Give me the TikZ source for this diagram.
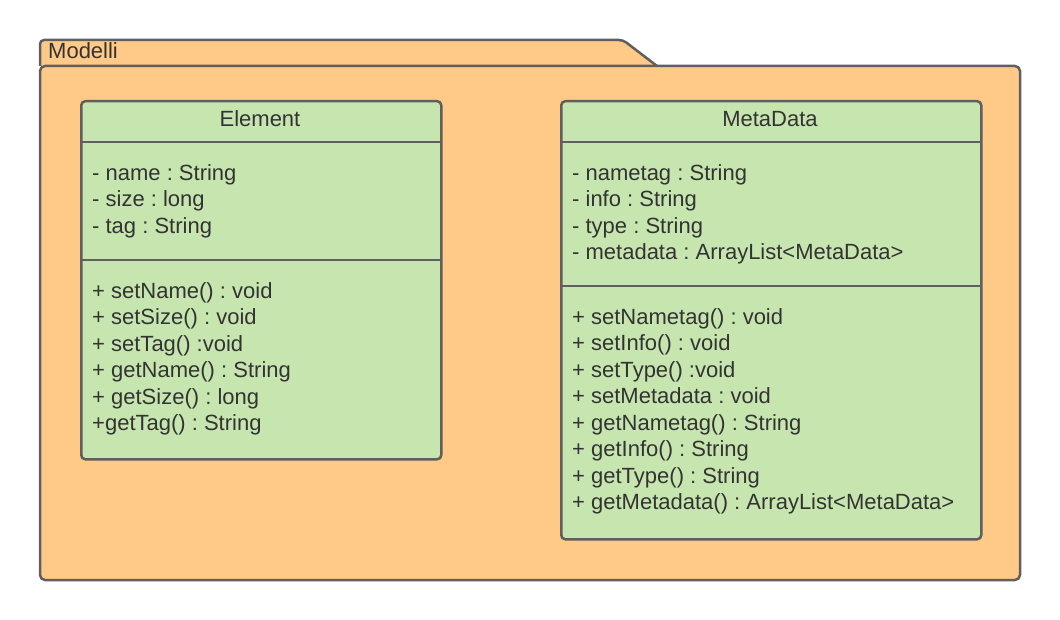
\documentclass[tikz,border=0pt]{standalone}
\usepackage{fontspec}
\setmainfont{Liberation Sans}
\usepackage{xcolor}
\usetikzlibrary{positioning}
\definecolor{pkgfill}{RGB}{255,201,135}
\definecolor{clsfill}{RGB}{199,230,175}
\definecolor{edge}{RGB}{95,95,95}
\definecolor{ink}{RGB}{51,51,51}
\frenchspacing
\begin{document}
\begin{tikzpicture}[x=1pt,y=-1pt,line join=round]
    \tikzstyle{classbox}=[draw=edge,fill=clsfill,line width=2.5pt,rounded corners=4pt,inner sep=0pt,anchor=north west]
    \tikzstyle{title}=[text=ink,font=\fontsize{22}{26.5}\selectfont,inner sep=0pt]
    \tikzstyle{members}=[text=ink,font=\fontsize{22}{26.5}\selectfont,align=left,inner sep=0pt,anchor=north west]
    \tikzstyle{divider}=[draw=edge,line width=2.5pt]

    \useasboundingbox (0,0) rectangle (1060,620);

    % package
    \draw[draw=edge,fill=pkgfill,line width=2.5pt,rounded corners=4pt] (40,66) -- (40,40) -- (623,40) -- (657,66);
    \draw[draw=edge,fill=pkgfill,line width=2.5pt,rounded corners=5pt] (40,66) rectangle (1020,580);
    \node[title,anchor=west] (pkg) at (48,51) {Modelli};

    % Element
    \node[classbox,minimum width=360,minimum height=358] (element) at (80,100) {};
    \node[title] (elementname) at (260,119) {Element};
    \draw[divider] (80,142) -- (440,142);
    \draw[divider] (80,260) -- (440,260);
    \node[members] (elementattr) at (92,164) {- name : String\\- size : long\\- tag : String};
    \node[members] (elementops) at (92,282) {+ setName() : void\\+ setSize() : void\\+ setTag() :void\\+ getName() : String\\+ getSize() : long\\+getTag() : String};

    % MetaData
    \node[classbox,minimum width=420,minimum height=438] (metadata) at (560,100) {};
    \node[title] (metadataname) at (770,119) {MetaData};
    \draw[divider] (560,142) -- (980,142);
    \draw[divider] (560,286) -- (980,286);
    \node[members] (metadataattr) at (572,164) {- nametag : String\\- info : String\\- type : String\\- metadata : ArrayList<MetaData>};
    \node[members] (metadataops) at (572,308) {+ setNametag() : void\\+ setInfo() : void\\+ setType() :void\\+ setMetadata : void\\+ getNametag() : String\\+ getInfo() : String\\+ getType() : String\\+ getMetadata() : ArrayList<MetaData>};
\end{tikzpicture}
\end{document}
